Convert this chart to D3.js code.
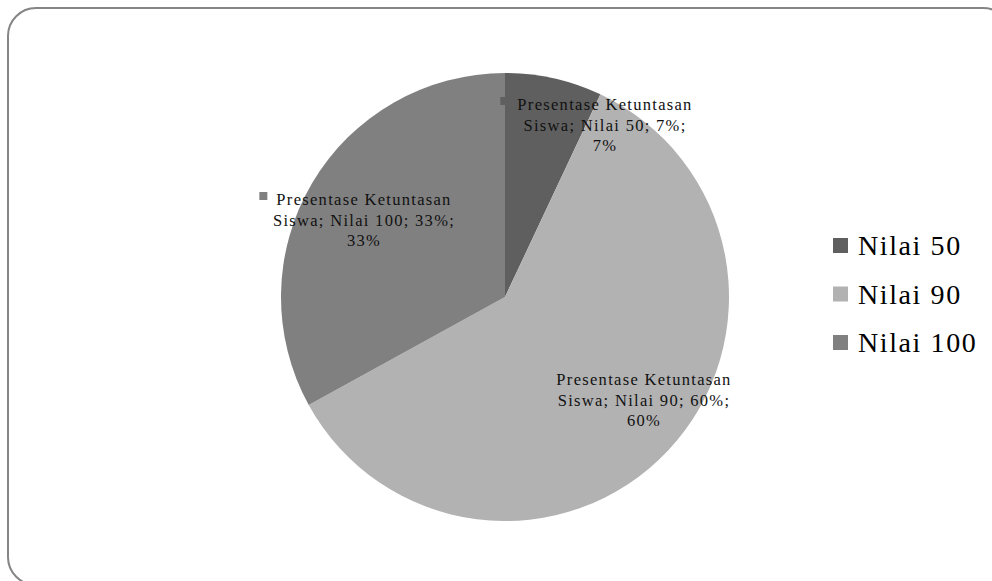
<!DOCTYPE html>
<html>
<head>
<meta charset="utf-8">
<script src="https://cdn.jsdelivr.net/npm/d3@7"></script>
<style>
  html, body { margin: 0; padding: 0; background: #fff; }
  svg { display: block; }
</style>
</head>
<body>
<svg id="chart" width="992" height="581"></svg>
<script>
// Data
const seriesName = "Presentase Ketuntasan Siswa";
const categories = ["Nilai 50", "Nilai 90", "Nilai 100"];
const values = [7, 60, 33];
const percentLabels = ["7%", "60%", "33%"];
const colors = ["#5f5f5f", "#b2b2b2", "#808080"];

// Layout
const W = 992, H = 581;
const cx = 505, cy = 297, R = 224;
const serif = "'Liberation Serif', 'Times New Roman', Times, 'DejaVu Serif', serif";
// data label anchors (centre of text block, baseline of first line)
const labelAnchors = [
  { x: 605, y: 110 },
  { x: 644, y: 385 },
  { x: 364, y: 205 }
];
const labelLineGap = 20.5;

const svg = d3.select("#chart");

// Frame with rounded corners
svg.append("rect")
  .attr("x", 8).attr("y", 8)
  .attr("width", 1003).attr("height", 577)
  .attr("rx", 28).attr("ry", 28)
  .attr("fill", "#fff")
  .attr("stroke", "#858585")
  .attr("stroke-width", 2);

const color = d3.scaleOrdinal().domain(categories).range(colors);

const pie = d3.pie().sort(null).value(d => d.value);
const arcs = pie(categories.map((c, i) => ({ cat: c, value: values[i], pct: percentLabels[i] })));
const arc = d3.arc().innerRadius(0).outerRadius(R);

const g = svg.append("g").attr("transform", `translate(${cx},${cy})`);
g.selectAll("path.slice")
  .data(arcs)
  .join("path")
  .attr("class", "slice")
  .attr("d", arc)
  .attr("fill", d => color(d.data.cat));

// Data labels
const labels = svg.append("g").selectAll("g.lbl")
  .data(arcs)
  .join("g")
  .attr("class", "lbl")
  .attr("transform", (d, i) => `translate(${labelAnchors[i].x},${labelAnchors[i].y})`);

labels.each(function (d) {
  const sel = d3.select(this);
  const lines = [
    "Presentase Ketuntasan",
    `Siswa; ${d.data.cat}; ${d.data.pct};`,
    d.data.pct
  ];
  const t = sel.append("text")
    .attr("text-anchor", "middle")
    .attr("font-family", serif)
    .attr("fill", "#111")
    .attr("font-size", 16.5)
    .attr("letter-spacing", 1.3);
  lines.forEach((ln, k) => {
    t.append("tspan").attr("x", 0).attr("y", k * labelLineGap).text(ln);
  });
  // legend key before the first line
  const firstW = t.select("tspan").node().getComputedTextLength();
  sel.append("rect")
    .attr("x", -firstW / 2 - 17)
    .attr("y", -13)
    .attr("width", 8).attr("height", 8)
    .attr("fill", color(d.data.cat));
});

// Legend
const legend = svg.append("g").attr("transform", "translate(833,255)");
const items = legend.selectAll("g")
  .data(categories)
  .join("g")
  .attr("transform", (d, i) => `translate(0,${i * 48.5})`);
items.append("rect")
  .attr("x", 0).attr("y", -17)
  .attr("width", 15).attr("height", 15)
  .attr("fill", d => color(d));
items.append("text")
  .attr("x", 25).attr("y", 0)
  .attr("font-family", serif)
  .attr("fill", "#000")
  .attr("font-size", 28)
  .attr("letter-spacing", 1.6)
  .text(d => d);
</script>
</body>
</html>
